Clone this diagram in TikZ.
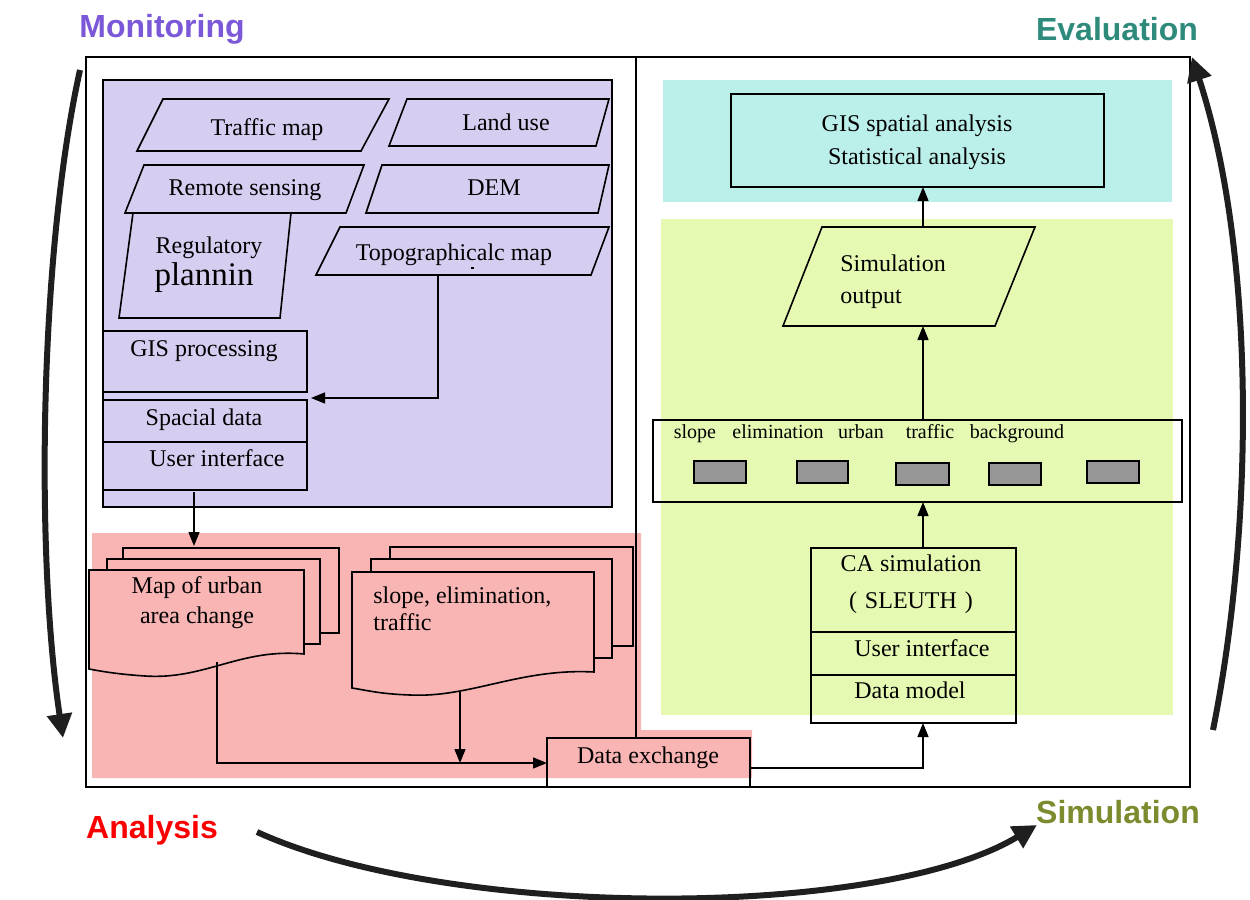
\documentclass[tikz,border=0pt]{standalone}
\usepackage{fontspec}
\setmainfont{Liberation Serif}
\newfontfamily\phasefont{Liberation Sans}
\usetikzlibrary{arrows.meta,fit}

\definecolor{monviolet}{RGB}{123,88,216}
\definecolor{evalteal}{RGB}{46,139,124}
\definecolor{simolive}{RGB}{122,140,46}
\definecolor{anared}{RGB}{250,0,0}
\definecolor{lavender}{RGB}{215,205,241}
\definecolor{rosepink}{RGB}{249,180,180}
\definecolor{paleaqua}{RGB}{187,239,233}
\definecolor{palelime}{RGB}{230,249,178}
\definecolor{cellgray}{RGB}{150,150,150}

\tikzset{
  every node/.style={inner sep=0pt, font=\fontsize{12}{14}\selectfont},
  txt/.style={anchor=base, yshift=-4pt},
  txtw/.style={anchor=base west, yshift=-4pt},
  frame/.style={draw=black, line width=0.8pt},
  box/.style={draw=black, line width=0.8pt, inner sep=0pt},
  pg/.style={draw=black, line width=0.8pt, fill=lavender, line join=miter},
  sheet/.style={draw=black, line width=0.8pt, fill=rosepink},
  cell/.style={draw=black, line width=0.8pt, fill=cellgray, inner sep=0pt},
  flow/.style={line width=0.7pt, -{Triangle[length=7pt,width=5.5pt]}},
  cyclearrow/.style={draw=black!88, line width=3pt, -{Triangle[length=12pt,width=12pt]}},
  phase/.style={anchor=base, font=\phasefont\bfseries\fontsize{16}{18}\selectfont},
  layertext/.style={font=\fontsize{10}{12}\selectfont, anchor=base},
}

\begin{document}
\begin{tikzpicture}[x=0.5pt,y=-0.5pt]
\useasboundingbox (0,0) rectangle (1250,900);

% coloured zones
\fill[rosepink] (92,533) -- (641,533) -- (641,730) -- (752,730) -- (752,778) -- (92,778) -- cycle;
\fill[paleaqua] (663,80) rectangle (1172,202);
\fill[palelime] (661,219) rectangle (1173,715);

% outer frame and divider
\draw[frame] (86,57) rectangle (1190,787);
\draw[frame] (636,57) -- (636,738);

% ---------- monitoring panel ----------
\node[box, fill=lavender, fit={(103,80) (612,507)}] (monpanel) {};

\draw[pg] (163,99) -- (389,99) -- (361,151) -- (137,151) -- cycle;
\node[txt] (traffic) at (267,127) {Traffic map};
\draw[pg] (407,99) -- (609,99) -- (596,146) -- (389,146) -- cycle;
\node[txt] (landuse) at (506,122) {Land use};
\draw[pg] (144,165) -- (364,165) -- (346,213) -- (125,213) -- cycle;
\node[txt] (remote) at (245,187) {Remote sensing};
\draw[pg] (382,165) -- (609,165) -- (598,213) -- (366,213) -- cycle;
\node[txt] (dem) at (494,187) {DEM};
\draw[pg] (133,213) -- (291,213) -- (280,318) -- (119,318) -- cycle;
\node[txt] (reg1) at (209,245) {Regulatory};
\node[anchor=base, font=\fontsize{16.5}{18}\selectfont] (reg2) at (204,285) {plannin};
\draw[pg] (340,227) -- (609,227) -- (591,275) -- (316,275) -- cycle;
\node[txt] (topo) at (454,252) {Topographicalc map};
\draw[line width=0.6pt] (471,268) -- (474,268);

\node[box, fit={(103,331) (307,392)}] (gisproc) {};
\node[txt] at (204,348) {GIS processing};
\node[box, fit={(103,400) (307,442)}] (spatial) {};
\node[txt] at (204,417) {Spacial data};
\node[box, fit={(103,442) (307,490)}] (ui1) {};
\node[txt] at (217,458) {User interface};

\coordinate (topoOut) at (438,275);
\coordinate (gisIn) at (311,398);
\draw[flow] (topoOut) |- (gisIn);

% ---------- analysis documents ----------
\draw[sheet] (123,548) rectangle (339,633);
\draw[sheet] (107,559) rectangle (320,644);
\draw[sheet] (89,570) -- (304,570) -- (304,654)
  .. controls (240,648) and (205,680) .. (145,676)
  .. controls (115,674) and (100,671) .. (89,669) -- cycle;
\node[txt] (map1) at (197,585) {Map of urban};
\node[txt] (map2) at (197,615) {area change};

\draw[sheet] (390,547) rectangle (633,646);
\draw[sheet] (371,559) rectangle (612,658);
\draw[sheet] (352,572) -- (594,572) -- (594,672)
  .. controls (520,668) and (470,698) .. (410,695)
  .. controls (380,694) and (365,690) .. (352,688) -- cycle;
\node[txtw] (slope1) at (373,595) {slope, elimination,};
\node[txtw] (slope2) at (373,622) {traffic};

\node[box, fit={(547,738) (750,787)}] (dex) {};
\node[txt] at (648,755) {Data exchange};

\coordinate (uiOut) at (194,492);
\coordinate (mapIn) at (194,546);
\draw[flow] (uiOut) -- (mapIn);

\coordinate (mapOut) at (217,662);
\coordinate (dexIn) at (547,763);
\draw[flow] (mapOut) |- (dexIn);
\coordinate (slopeOut) at (460,692);
\coordinate (joinPt) at (460,763);
\draw[flow] (slopeOut) -- (joinPt);

% ---------- evaluation / simulation ----------
\node[box, fit={(731,94) (1104,187)}] (gisana) {};
\node[txt] at (917,123) {GIS spatial analysis};
\node[txt] at (917,156) {Statistical analysis};

\draw[pg, fill=palelime] (822,227) -- (1035,227) -- (995,326) -- (783,326) -- cycle;
\node[txtw] (simout1) at (840,263) {Simulation};
\node[txtw] (simout2) at (840,295) {output};

\node[box, fit={(653,420) (1182,502)}] (layers) {};
\node[layertext] at (695,438) {slope};
\node[layertext] at (778,438) {elimination};
\node[layertext] at (861,438) {urban};
\node[layertext] at (930,438) {traffic};
\node[layertext] at (1017,438) {background};
\node[cell, fit={(694,461) (746,483)}] (c1) {};
\node[cell, fit={(797,461) (848,483)}] (c2) {};
\node[cell, fit={(896,463) (949,485)}] (c3) {};
\node[cell, fit={(989,463) (1041,485)}] (c4) {};
\node[cell, fit={(1087,461) (1139,483)}] (c5) {};

\node[box, fit={(811,548) (1016,632)}] (ca) {};
\node[txt] at (911,563) {CA simulation};
\node[txt] at (911,600) {(\,\,SLEUTH\,\,)};
\node[box, fit={(811,632) (1016,675)}] (ui2) {};
\node[txt] at (922,648) {User interface};
\node[box, fit={(811,675) (1016,723)}] (dm) {};
\node[txt] at (910,690) {Data model};

\coordinate (simTop) at (923,227);
\coordinate (gisBot) at (923,187);
\draw[flow] (simTop) -- (gisBot);
\coordinate (simBot) at (923,326);
\coordinate (layTop) at (923,420);
\draw[flow] (layTop) -- (simBot);
\coordinate (caTop) at (923,548);
\coordinate (layBot) at (923,502);
\draw[flow] (caTop) -- (layBot);
\coordinate (dexOut) at (750,768);
\coordinate (dmIn) at (923,723);
\draw[flow] (dexOut) -| (dmIn);

% ---------- cycle of phases ----------
\node[phase, text=monviolet] (mon) at (162,37) {Monitoring};
\node[phase, text=evalteal] (eva) at (1117,40) {Evaluation};
\node[phase, text=anared] (ana) at (152,838) {Analysis};
\node[phase, text=simolive] (sim) at (1118,823) {Simulation};

\coordinate (l0) at (80,70);
\coordinate (l1) at (63,738);
\draw[cyclearrow] (l0) .. controls (40,250) and (35,550) .. (l1);
\coordinate (b0) at (257,832);
\coordinate (b1) at (1037,825);
\draw[cyclearrow] (b0) .. controls (450,920) and (880,920) .. (b1);
\coordinate (r0) at (1213,730);
\coordinate (r1) at (1192,57);
\draw[cyclearrow] (r0) .. controls (1255,520) and (1255,250) .. (r1);
\end{tikzpicture}
\end{document}
